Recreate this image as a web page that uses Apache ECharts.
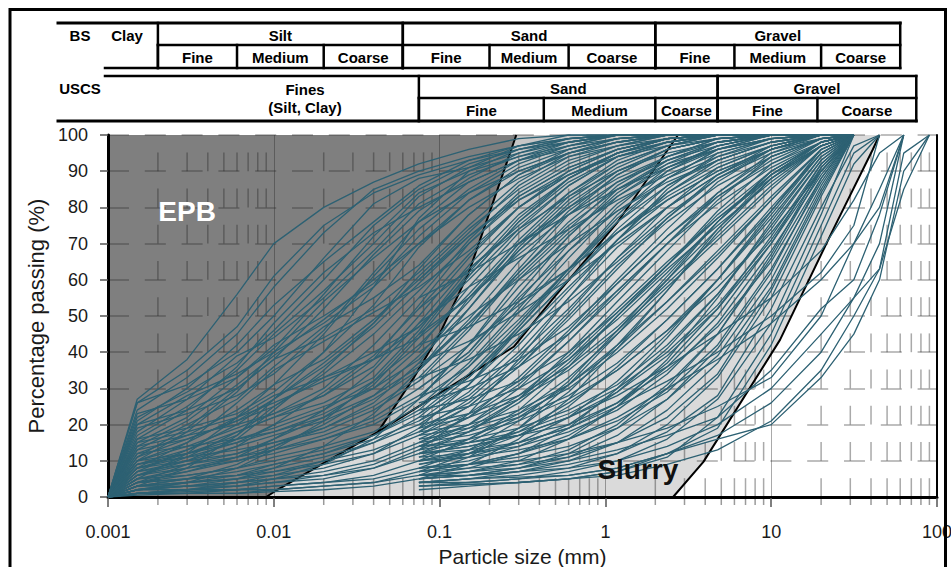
<!DOCTYPE html>
<html>
<head>
<meta charset="utf-8">
<script src="https://cdn.jsdelivr.net/npm/echarts@6.0.0/dist/echarts.min.js"></script>
<style>
  html, body { margin: 0; padding: 0; background: #ffffff; }
  #chart { width: 951px; height: 567px; }
</style>
</head>
<body>
<div id="chart"></div>
<script>
// Grain size distribution curves against the EPB / slurry application ranges.

// Sieve / hydrometer sizes (mm) for samples with a fines analysis
const sieveFine = [0.001, 0.0015, 0.003, 0.006, 0.01, 0.02, 0.04, 0.075, 0.15, 0.3, 0.6, 1.18, 2.36, 4.75, 10, 20, 31.5];
// Sieve sizes (mm) for samples tested by sieving only
const sieveCoarse = [0.075, 0.15, 0.3, 0.6, 1.18, 2.36, 4.75, 10, 20, 31.5, 45, 63, 90];

// Percentage passing, fine-grained samples (one row per sample, at sieveFine)
const fineCurves = [
  [0, 27, 38, 56, 70, 80, 87, 92, 96, 99, 100, 100, 100, 100, 100, 100, 100],
  [0, 24, 33, 45, 58, 73, 85, 90, 94, 97, 99, 100, 100, 100, 100, 100, 100],
  [0, 26, 31, 40, 50, 66, 81, 88, 91, 95, 98, 100, 100, 100, 100, 100, 100],
  [0, 22, 29, 37, 46, 60, 75, 85, 92, 96, 99, 100, 100, 100, 100, 100, 100],
  [0, 18, 27, 39, 44, 55, 68, 81, 89, 94, 98, 100, 100, 100, 100, 100, 100],
  [0, 20, 24, 30, 38, 52, 67, 79, 88, 95, 99, 100, 100, 100, 100, 100, 100],
  [0, 15, 22, 33, 42, 50, 59, 72, 84, 92, 97, 100, 100, 100, 100, 100, 100],
  [0, 19, 23, 28, 34, 46, 62, 76, 87, 93, 96, 99, 100, 100, 100, 100, 100],
  [0, 13, 20, 27, 36, 47, 55, 64, 78, 89, 95, 98, 100, 100, 100, 100, 100],
  [0, 16, 19, 23, 29, 40, 53, 69, 82, 90, 95, 98, 100, 100, 100, 100, 100],
  [0, 12, 17, 24, 31, 38, 49, 60, 73, 86, 94, 97, 99, 100, 100, 100, 100],
  [0, 11, 16, 21, 25, 34, 45, 57, 70, 82, 90, 96, 99, 100, 100, 100, 100],
  [0, 14, 17, 20, 23, 30, 42, 55, 71, 84, 92, 97, 100, 100, 100, 100, 100],
  [0, 10, 14, 19, 23, 28, 36, 50, 66, 80, 89, 95, 98, 100, 100, 100, 100],
  [0, 9, 13, 18, 22, 26, 33, 46, 63, 75, 86, 94, 98, 100, 100, 100, 100],
  [0, 10, 12, 15, 20, 25, 30, 41, 58, 73, 84, 92, 97, 100, 100, 100, 100],
  [0, 8, 11, 15, 18, 23, 30, 38, 52, 69, 82, 91, 97, 100, 100, 100, 100],
  [0, 7, 10, 14, 17, 21, 27, 35, 49, 65, 79, 89, 96, 99, 100, 100, 100],
  [0, 9, 11, 13, 15, 19, 26, 37, 55, 70, 80, 88, 94, 98, 100, 100, 100],
  [0, 6, 9, 12, 15, 18, 24, 32, 46, 62, 76, 87, 94, 99, 100, 100, 100],
  [0, 6, 8, 10, 13, 17, 22, 30, 40, 56, 72, 85, 93, 98, 100, 100, 100],
  [0, 5, 7, 10, 12, 16, 20, 27, 42, 60, 73, 83, 91, 97, 100, 100, 100],
  [0, 5, 6, 8, 11, 14, 18, 25, 37, 52, 68, 81, 90, 96, 100, 100, 100],
  [0, 4, 6, 8, 10, 13, 17, 23, 34, 48, 63, 77, 88, 96, 99, 100, 100],
  [0, 4, 5, 7, 9, 12, 16, 21, 31, 46, 60, 74, 86, 94, 99, 100, 100],
  [0, 3, 5, 6, 8, 11, 15, 20, 29, 42, 57, 71, 84, 93, 98, 100, 100],
  [0, 3, 4, 5, 7, 10, 13, 18, 27, 39, 52, 66, 80, 91, 97, 100, 100],
  [0, 3, 4, 5, 6, 8, 12, 17, 25, 36, 49, 63, 77, 89, 97, 100, 100],
  [0, 2, 3, 4, 5, 7, 10, 15, 22, 33, 46, 60, 74, 87, 96, 100, 100],
  [0, 2, 3, 3, 4, 6, 9, 14, 20, 30, 43, 56, 70, 84, 95, 100, 100],
  [0, 2, 2, 3, 4, 5, 8, 12, 18, 27, 40, 54, 68, 82, 94, 99, 100],
  [0, 1, 2, 2, 3, 4, 6, 10, 16, 24, 36, 50, 64, 79, 92, 99, 100],
  [0, 1, 1, 2, 3, 4, 5, 8, 13, 21, 32, 46, 61, 76, 90, 98, 100],
  [0, 1, 1, 1, 2, 3, 4, 7, 12, 19, 29, 42, 57, 73, 88, 97, 100],
  [0, 5, 12, 22, 31, 45, 61, 74, 85, 93, 98, 100, 100, 100, 100, 100, 100],
  [0, 3, 8, 17, 27, 40, 58, 77, 90, 96, 99, 100, 100, 100, 100, 100, 100],
  [0, 8, 15, 26, 35, 43, 51, 58, 68, 80, 90, 96, 99, 100, 100, 100, 100],
  [0, 12, 14, 16, 18, 22, 28, 36, 48, 61, 74, 86, 94, 99, 100, 100, 100],
  [0, 4, 9, 14, 20, 29, 39, 52, 67, 80, 89, 95, 99, 100, 100, 100, 100],
  [0, 2, 4, 8, 13, 21, 32, 45, 62, 77, 88, 95, 99, 100, 100, 100, 100],
  [0, 6, 10, 16, 24, 35, 48, 63, 78, 89, 96, 99, 100, 100, 100, 100, 100],
  [0, 1, 2, 3, 5, 9, 16, 27, 42, 58, 72, 84, 93, 98, 100, 100, 100],
  [0, 2, 3, 5, 8, 14, 23, 35, 52, 68, 81, 90, 96, 99, 100, 100, 100],
  [0, 10, 18, 29, 40, 54, 66, 76, 84, 90, 95, 98, 100, 100, 100, 100, 100],
  [0, 17, 25, 35, 45, 57, 70, 83, 91, 97, 100, 100, 100, 100, 100, 100, 100],
  [0, 0.5, 1, 1, 1.5, 2, 3, 5, 9, 16, 27, 41, 57, 74, 89, 97, 100],
  [0, 1, 1.5, 2, 2, 3, 4, 6, 11, 19, 31, 45, 60, 76, 90, 98, 100],
  [0, 21, 30, 42, 53, 65, 76, 86, 93, 97, 99, 100, 100, 100, 100, 100, 100],
  [0, 23, 27, 33, 41, 56, 72, 84, 90, 94, 97, 99, 100, 100, 100, 100, 100],
  [0, 16, 24, 36, 48, 62, 73, 80, 87, 93, 97, 100, 100, 100, 100, 100, 100],
  [0, 14, 21, 31, 39, 49, 60, 70, 80, 88, 94, 98, 100, 100, 100, 100, 100],
  [0, 11, 19, 30, 38, 44, 52, 62, 75, 87, 95, 99, 100, 100, 100, 100, 100],
  [0, 13, 16, 21, 27, 36, 47, 59, 72, 83, 91, 96, 99, 100, 100, 100, 100],
  [0, 7, 13, 20, 27, 37, 48, 61, 74, 85, 93, 97, 100, 100, 100, 100, 100],
  [0, 9, 12, 17, 25, 33, 40, 47, 60, 74, 86, 94, 98, 100, 100, 100, 100],
  [0, 6, 11, 18, 22, 28, 38, 53, 70, 83, 91, 96, 99, 100, 100, 100, 100],
  [0, 8, 10, 12, 16, 22, 31, 44, 61, 76, 87, 94, 98, 100, 100, 100, 100],
  [0, 5, 8, 11, 14, 20, 28, 39, 54, 70, 83, 92, 97, 100, 100, 100, 100],
  [0, 4, 7, 11, 16, 24, 35, 48, 64, 78, 88, 95, 99, 100, 100, 100, 100],
  [0, 3, 5, 9, 14, 19, 25, 33, 47, 63, 78, 89, 96, 99, 100, 100, 100],
  [0, 7, 9, 11, 13, 16, 21, 28, 39, 54, 70, 83, 92, 98, 100, 100, 100],
  [0, 2, 4, 6, 9, 12, 17, 24, 36, 51, 66, 80, 91, 97, 100, 100, 100],
  [0, 4, 5, 6, 7, 9, 12, 19, 31, 47, 63, 78, 90, 97, 100, 100, 100],
  [0, 1, 2, 4, 6, 10, 15, 22, 33, 47, 62, 76, 88, 96, 100, 100, 100],
  [0, 3, 3, 4, 5, 6, 8, 13, 23, 38, 55, 71, 85, 95, 99, 100, 100],
  [0, 26, 35, 47, 61, 75, 84, 89, 93, 96, 98, 100, 100, 100, 100, 100, 100],
  [0, 20, 28, 34, 40, 48, 58, 70, 82, 91, 96, 99, 100, 100, 100, 100, 100],
  [0, 10, 15, 22, 28, 33, 38, 44, 55, 68, 80, 90, 96, 99, 100, 100, 100],
  [0, 15, 18, 22, 26, 32, 38, 47, 61, 76, 88, 95, 99, 100, 100, 100, 100],
  [0, 8, 12, 16, 19, 24, 32, 42, 56, 71, 84, 93, 98, 100, 100, 100, 100]
];

// Percentage passing, sandy samples (at sieveCoarse)
const sandCurves = [
  [3, 4, 5, 7, 10, 16, 27, 48, 78, 100],
  [4, 5, 6, 8, 12, 20, 33, 55, 83, 100],
  [5, 6, 8, 11, 17, 27, 41, 62, 88, 100],
  [6, 7, 9, 13, 20, 31, 45, 66, 90, 100],
  [7, 9, 12, 17, 25, 36, 50, 70, 92, 100],
  [8, 10, 14, 20, 29, 41, 56, 75, 93, 100],
  [5, 7, 10, 16, 25, 38, 55, 76, 94, 100],
  [9, 12, 17, 25, 36, 49, 63, 80, 95, 100],
  [4, 4, 5, 6, 8, 12, 19, 42, 72, 92, 100],
  [6, 6, 7, 9, 12, 18, 28, 52, 80, 97, 100],
  [3, 3.5, 4, 5, 7, 11, 22, 45, 75, 95, 100],
  [7, 8, 9, 11, 15, 22, 34, 57, 84, 100],
  [8, 9, 11, 14, 19, 27, 39, 60, 86, 100],
  [10, 11, 13, 16, 21, 29, 42, 63, 87, 100],
  [9, 11, 15, 22, 32, 45, 60, 78, 95, 100],
  [6, 8, 12, 19, 30, 44, 60, 79, 96, 100],
  [5, 6, 8, 12, 19, 30, 45, 67, 91, 100],
  [4, 5, 7, 10, 15, 24, 37, 58, 85, 100],
  [10, 13, 18, 26, 35, 46, 58, 73, 90, 100],
  [11, 15, 22, 31, 42, 54, 67, 82, 96, 100],
  [12, 14, 17, 22, 29, 39, 52, 70, 90, 100],
  [12, 16, 23, 33, 45, 58, 71, 85, 97, 100],
  [13, 15, 18, 23, 30, 40, 53, 71, 91, 100],
  [13, 18, 26, 37, 50, 63, 75, 87, 97, 100],
  [14, 16, 19, 24, 31, 42, 56, 74, 93, 100],
  [14, 19, 27, 38, 51, 64, 77, 89, 98, 100],
  [15, 17, 21, 27, 35, 46, 60, 77, 94, 100],
  [15, 20, 28, 39, 52, 65, 77, 88, 97, 100],
  [16, 18, 22, 28, 37, 49, 63, 79, 95, 100],
  [16, 22, 31, 43, 57, 70, 81, 91, 98, 100],
  [17, 19, 23, 30, 40, 52, 66, 82, 96, 100],
  [17, 23, 32, 45, 59, 72, 83, 92, 98, 100],
  [18, 20, 24, 31, 41, 54, 68, 83, 96, 100],
  [18, 25, 36, 50, 64, 76, 86, 94, 99, 100],
  [19, 22, 27, 35, 46, 59, 72, 86, 97, 100],
  [19, 26, 37, 51, 66, 78, 88, 95, 99, 100],
  [20, 23, 28, 36, 47, 60, 74, 88, 98, 100],
  [11, 12, 14, 18, 24, 34, 48, 68, 89, 100],
  [12, 13, 15, 19, 26, 37, 52, 72, 92, 100],
  [14, 15, 17, 20, 26, 35, 47, 65, 88, 100],
  [21, 28, 40, 55, 69, 80, 89, 96, 100, 100],
  [22, 25, 30, 38, 49, 62, 76, 89, 98, 100],
  [23, 31, 44, 58, 71, 82, 90, 96, 99, 100],
  [24, 27, 32, 40, 51, 64, 78, 90, 98, 100],
  [25, 33, 46, 60, 73, 84, 92, 97, 100, 100],
  [26, 30, 36, 45, 57, 70, 83, 93, 99, 100],
  [27, 36, 49, 63, 76, 86, 93, 98, 100, 100],
  [28, 32, 38, 47, 59, 72, 84, 94, 99, 100],
  [30, 40, 55, 68, 79, 88, 94, 98, 100, 100],
  [32, 42, 53, 63, 73, 82, 90, 96, 100, 100],
  [33, 38, 45, 54, 65, 77, 88, 96, 100, 100],
  [35, 48, 62, 75, 85, 92, 96, 99, 100, 100],
  [37, 43, 51, 60, 70, 80, 89, 96, 100, 100],
  [40, 50, 60, 70, 79, 87, 93, 98, 100, 100],
  [45, 55, 67, 78, 87, 93, 97, 100, 100, 100],
  [52, 63, 74, 83, 90, 95, 98, 100, 100, 100],
  [60, 72, 82, 89, 94, 97, 99, 100, 100, 100],
  [48, 58, 66, 74, 82, 89, 95, 99, 100, 100],
  [55, 62, 70, 78, 85, 91, 96, 99, 100, 100],
  [42, 47, 54, 63, 73, 83, 91, 97, 100, 100]
];

// Percentage passing, gravelly samples (at sieveCoarse)
const gravelCurves = [
  [3, 3.5, 4, 5, 7, 12, 16, 20, 33, 45, 60, 90, 100],
  [4, 5, 5.5, 6, 8, 12, 17, 26, 40, 55, 70, 100],
  [2, 3, 4, 5, 6, 9, 13, 21, 35, 50, 63, 85, 100],
  [5, 6, 7, 8, 10, 14, 20, 30, 45, 55, 63, 95, 100],
  [6, 7, 8, 10, 13, 17, 22, 35, 52, 60, 78, 100],
  [8, 9, 10, 12, 15, 19, 25, 33, 50, 70, 85, 100],
  [10, 12, 15, 19, 25, 32, 40, 50, 62, 75, 100],
  [12, 14, 17, 22, 28, 36, 45, 55, 68, 82, 95, 100],
  [7, 9, 12, 16, 22, 30, 38, 48, 60, 70, 80, 100]
];

// Application limits [size mm, % passing]
const epbLimit = [[0.009, 0], [0.0105, 2], [0.0425, 18], [0.07, 33], [0.1, 45], [0.15, 62], [0.29, 100]];
const midLimit = [[0.0425, 18], [0.175, 35.6], [0.28, 41.5], [0.5, 55.6], [1.175, 75.7], [2.74, 100]];
const slurryLimit = [[2.56, 0], [3.9, 9.7], [11.3, 43.4], [23.6, 73.8], [41, 96], [45, 100]];

// Axis ticks
const xTickLabels = ['0.001', '0.01', '0.1', '1', '10', '100'];
const minorSizes = [
  0.002, 0.003, 0.004, 0.005, 0.006, 0.007, 0.008, 0.009,
  0.02, 0.03, 0.04, 0.05, 0.06, 0.07, 0.08, 0.09,
  0.2, 0.3, 0.4, 0.5, 0.6, 0.7, 0.8, 0.9,
  2, 3, 4, 5, 6, 7, 8, 9,
  20, 30, 40, 50, 60, 70, 80, 90
];

// Zone names and where they sit
const regionLabels = [
  { name: 'EPB', at: [0.003, 79] },
  { name: 'Slurry', at: [1.57, 7.5] }
];

// Soil classification headers: [label, from mm, to mm]
const bsMain = [['Silt', 0.002, 0.06], ['Sand', 0.06, 2], ['Gravel', 2, 60]];
const bsSub = [
  ['Fine', 0.002, 0.006], ['Medium', 0.006, 0.02], ['Coarse', 0.02, 0.06],
  ['Fine', 0.06, 0.2], ['Medium', 0.2, 0.6], ['Coarse', 0.6, 2],
  ['Fine', 2, 6], ['Medium', 6, 20], ['Coarse', 20, 60]
];
const uscsMain = [['Sand', 0.075, 4.75], ['Gravel', 4.75, 75]];
const uscsSub = [
  ['Fine', 0.075, 0.425], ['Medium', 0.425, 2], ['Coarse', 2, 4.75],
  ['Fine', 4.75, 19], ['Coarse', 19, 75]
];

const X_MIN = 0.001, X_MAX = 100;
const FONT = '"Liberation Sans", Arial, sans-serif';
const CURVE = '#2d6173';
const GRID = 'rgba(40,40,40,0.4)';

const toPoints = (sizes, values) =>
  values.map((v, i) => (v == null ? null : [sizes[i], v])).filter(Boolean);

const chart = echarts.init(document.getElementById('chart'), null, { renderer: 'svg', width: 951, height: 567 });

const fill = (pts, color) => ({
  type: 'line', data: pts, symbol: 'none', silent: true, z: 1,
  lineStyle: { width: 0, opacity: 0 },
  areaStyle: { color: color, opacity: 1 }
});
const limit = pts => ({
  type: 'line', data: pts, symbol: 'none', silent: true, z: 3,
  lineStyle: { color: '#000', width: 2 }
});
const curve = pts => ({
  type: 'line', data: pts, symbol: 'none', silent: true, z: 4,
  lineStyle: { color: CURVE, width: 1.3 }
});

const series = [
  fill(epbLimit.concat([[X_MAX, 100]]), '#c6c6c6'),
  fill(epbLimit.slice(0, 2).concat(midLimit, [[X_MAX, 100]]), '#dadada'),
  fill(slurryLimit.concat([[X_MAX, 100]]), '#ffffff'),
  {
    // minor grid: dashed vertical lines at 2..9 of each decade, plus their axis ticks
    type: 'custom', silent: true, clip: false, z: 2,
    data: minorSizes.map(v => [v, 0]),
    encode: { x: 0, y: 1 },
    renderItem: function (params, api) {
      const x = api.value(0);
      const children = [];
      for (let k = 0; k < 100; k += 10) {
        const a = api.coord([x, k]);
        const b = api.coord([x, k + 5.2]);
        children.push({ type: 'line', shape: { x1: a[0], y1: a[1], x2: b[0], y2: b[1] },
          style: { stroke: GRID, lineWidth: 1.5 } });
      }
      const base = api.coord([x, 0]);
      children.push({ type: 'line', shape: { x1: base[0], y1: base[1] + 1, x2: base[0], y2: base[1] + 8 },
        style: { stroke: '#9a9a9a', lineWidth: 1.5 } });
      return { type: 'group', children: children };
    }
  },
  limit(epbLimit),
  limit(midLimit),
  limit(slurryLimit)
];

fineCurves.forEach(c => series.push(curve(toPoints(sieveFine, c))));
sandCurves.forEach(c => series.push(curve(toPoints(sieveCoarse, c))));
gravelCurves.forEach(c => series.push(curve(toPoints(sieveCoarse, c))));

const labelColors = ['#ffffff', '#111111'];
series.push({
  type: 'scatter', silent: true, z: 6, symbolSize: 1,
  itemStyle: { color: 'rgba(0,0,0,0)', opacity: 1 },
  emphasis: { disabled: true },
  data: regionLabels.map((r, i) => ({
    value: r.at, name: r.name,
    label: { color: labelColors[i] }
  })),
  label: {
    show: true, position: 'inside', formatter: '{b}', opacity: 1,
    fontSize: 28, fontWeight: 'bold', fontFamily: FONT,
    textBorderWidth: 0
  }
});

chart.setOption({
  animation: false,
  backgroundColor: '#ffffff',
  textStyle: { fontFamily: FONT },
  grid: {
    left: 108, right: 14, top: 135, bottom: 70,
    show: true, backgroundColor: '#7f7f7f', borderWidth: 0,
    outerBoundsMode: 'none', containLabel: false
  },
  xAxis: [
    {
      type: 'log', logBase: 10, min: X_MIN, max: X_MAX, splitNumber: 5, z: 2,
      position: 'bottom',
      axisLine: { show: true, onZero: false, lineStyle: { color: '#000', width: 3 } },
      axisTick: { show: true, length: 10, lineStyle: { color: '#555', width: 1.5 } },
      axisLabel: {
        fontSize: 18, color: '#1a1a1a', margin: 26, fontFamily: FONT,
        formatter: (v, i) => xTickLabels[i]
      },
      splitLine: { show: true, lineStyle: { color: GRID, width: 1 } },
      name: 'Particle size (mm)', nameLocation: 'middle', nameGap: 44,
      nameTextStyle: { fontSize: 21, color: '#1a1a1a', fontFamily: FONT }
    },
    {
      type: 'log', logBase: 10, min: X_MIN, max: X_MAX, position: 'top', z: 3,
      axisLine: { show: true, lineStyle: { color: '#000', width: 2 } },
      axisTick: { show: false }, axisLabel: { show: false }, splitLine: { show: false }
    }
  ],
  yAxis: [
    {
      type: 'value', min: 0, max: 100, interval: 10, z: 2,
      axisLine: { show: true, onZero: false, lineStyle: { color: '#000', width: 3 } },
      axisTick: { show: true, length: 8, lineStyle: { color: '#555', width: 1.5 } },
      axisLabel: { fontSize: 18, color: '#1a1a1a', margin: 20, fontFamily: FONT },
      splitLine: { show: true, lineStyle: { color: GRID, width: 1.5, type: [21, 15.8] } },
      name: 'Percentage passing (%)', nameLocation: 'middle', nameGap: 54,
      nameTextStyle: { fontSize: 22, color: '#1a1a1a', fontFamily: FONT }
    },
    {
      type: 'value', min: 0, max: 100, position: 'right', z: 3,
      axisLine: { show: true, lineStyle: { color: '#000', width: 2 } },
      axisTick: { show: false }, axisLabel: { show: false }, splitLine: { show: false }
    }
  ],
  series: series
});

// Classification header tables and the outer frame, placed on the particle-size scale
(function drawHeaders() {
  const px = v => chart.convertToPixel({ xAxisIndex: 0 }, v);
  const g = [];
  const line = (x1, y1, x2, y2, w) => g.push({
    type: 'line', silent: true, z: 100,
    shape: { x1: x1, y1: y1, x2: x2, y2: y2 },
    style: { stroke: '#000', lineWidth: w || 2.5, lineCap: 'square' }
  });
  const text = (t, x, y) => g.push({
    type: 'text', silent: true, z: 101, x: x, y: y,
    style: { text: t, fill: '#000', font: 'bold 15px ' + FONT, align: 'center', verticalAlign: 'middle' }
  });
  const mid = (a, b) => (px(a) + px(b)) / 2;

  // BS
  line(58, 23, px(60), 23, 3);
  bsMain.forEach(([t, a, b]) => {
    line(px(a), 23, px(a), 68);
    line(px(b), 23, px(b), 68);
    text(t, mid(a, b), 35);
  });
  line(px(bsMain[0][1]), 45, px(60), 45);
  bsSub.forEach(([t, a, b]) => {
    line(px(a), 45, px(a), 68);
    text(t, mid(a, b), 57.5);
  });
  line(105, 68, px(60), 68);
  text('BS', 80, 35);
  text('Clay', 127, 35);

  // USCS
  line(105, 76, px(75), 76);
  uscsMain.forEach(([t, a, b]) => {
    line(px(a), 76, px(a), 121);
    line(px(b), 76, px(b), 121);
    text(t, mid(a, b), 88);
  });
  line(px(uscsMain[0][1]), 98, px(75), 98);
  uscsSub.forEach(([t, a, b]) => {
    line(px(a), 98, px(a), 121);
    text(t, mid(a, b), 110.5);
  });
  line(58, 121, px(75), 121, 3);
  text('USCS', 80, 88);
  text('Fines', 305, 89);
  text('(Silt, Clay)', 305, 107);

  // outer frame
  g.push({
    type: 'rect', silent: true, z: 102,
    shape: { x: 10, y: 9.5, width: 935.5, height: 640 },
    style: { fill: 'none', stroke: '#000', lineWidth: 3 }
  });

  chart.setOption({ graphic: g });
})();
</script>
</body>
</html>
